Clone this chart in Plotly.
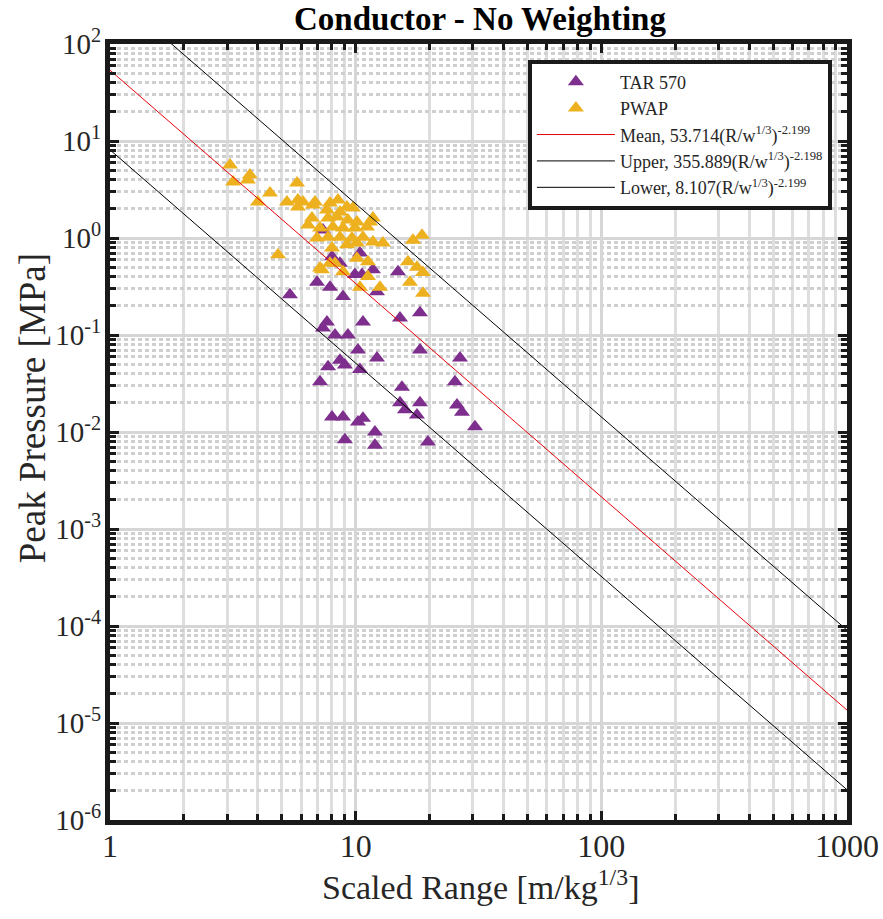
import plotly.graph_objects as go

# ---- Data ----
tar_range = [7.36, 8.01, 8.63, 10.41, 11.76, 14.87, 9.93, 10.61, 6.96, 7.86,
             12.21, 5.40, 8.88, 7.64, 10.71, 15.15, 18.27, 7.36, 8.24, 9.30,
             10.22, 18.27, 26.58, 8.63, 12.21, 7.72, 9.04, 10.41, 7.16, 15.43,
             25.36, 15.15, 18.27, 15.87, 17.76, 25.84, 27.08, 30.59, 8.01, 8.88,
             10.22, 10.71, 11.98, 9.04, 11.98, 19.69]
tar_peak = [1.21, 0.64, 0.55, 0.70, 0.47, 0.45, 0.42, 0.42, 0.35, 0.31,
            0.28, 0.26, 0.25, 0.136, 0.136, 0.15, 0.17, 0.118, 0.100, 0.100,
            0.070, 0.070, 0.058, 0.055, 0.058, 0.047, 0.049, 0.044, 0.033, 0.029,
            0.033, 0.020, 0.020, 0.017, 0.015, 0.019, 0.016, 0.0113, 0.0143, 0.0143,
            0.0127, 0.0139, 0.0100, 0.0083, 0.0073, 0.0079]

pwap_range = [3.08, 3.71, 3.17, 3.64, 5.77, 4.48, 4.00, 5.25, 5.82, 6.10,
              6.83, 5.82, 6.70, 7.86, 8.47, 9.22, 9.75, 7.64, 8.63, 6.64,
              6.40, 7.72, 8.39, 9.30, 10.12, 11.44, 11.76, 7.16, 8.08, 8.88,
              9.93, 11.12, 6.96, 7.72, 8.63, 9.66, 10.71, 11.76, 12.91, 9.22,
              10.12, 17.11, 18.62, 4.83, 8.01, 7.16, 8.24, 10.12, 11.22, 16.33,
              17.76, 18.79, 16.63, 12.56, 11.22, 10.41, 18.79, 7.86, 8.88, 7.29]
pwap_peak = [5.66, 4.46, 3.78, 3.96, 3.69, 2.91, 2.35, 2.35, 2.46, 2.35,
             2.35, 2.09, 2.19, 2.29, 2.46, 2.09, 2.04, 1.94, 1.85, 1.61,
             1.36, 1.61, 1.65, 1.53, 1.46, 1.46, 1.61, 1.27, 1.30, 1.27,
             1.27, 1.30, 1.00, 1.02, 1.02, 1.00, 1.02, 0.91, 0.89, 0.85,
             0.89, 0.95, 1.07, 0.67, 0.79, 0.49, 0.55, 0.62, 0.57, 0.57,
             0.50, 0.44, 0.35, 0.31, 0.40, 0.31, 0.27, 0.55, 0.45, 0.47]

# Fit lines: P = coef * R ** expo
fit_names = ["Mean", "Upper", "Lower"]
fit_coef = [53.714, 355.889, 8.107]
fit_expo = [-2.199, -2.198, -2.199]
fit_colors = ["#e8000b", "#000000", "#000000"]
line_range = [1, 1000]

x_tickvals = [1, 10, 100, 1000]
x_ticktext = ["1", "10", "100", "1000"]
y_tickvals = [1e-6, 1e-5, 1e-4, 1e-3, 1e-2, 1e-1, 1, 10, 100]
y_ticktext = ["10<sup>-6</sup>", "10<sup>-5</sup>", "10<sup>-4</sup>", "10<sup>-3</sup>",
              "10<sup>-2</sup>", "10<sup>-1</sup>", "10<sup>0</sup>", "10<sup>1</sup>",
              "10<sup>2</sup>"]

title_text = "<b>Conductor - No Weighting</b>"
xlabel = "Scaled Range [m/kg<sup>1/3</sup>]"
ylabel = "Peak Pressure [MPa]"

SERIF = "Liberation Serif"
TXT = "#262626"

fig = go.Figure()
fig.add_trace(go.Scatter(x=tar_range, y=tar_peak, mode="markers", name="TAR 570",
                         marker=dict(symbol="triangle-up", size=14, color="#7E2F8E",
                                     line=dict(width=0))))
fig.add_trace(go.Scatter(x=pwap_range, y=pwap_peak, mode="markers", name="PWAP",
                         marker=dict(symbol="triangle-up", size=14, color="#EDB120",
                                     line=dict(width=0))))
for nm, c, e, col in zip(fit_names, fit_coef, fit_expo, fit_colors):
    fig.add_trace(go.Scatter(
        x=line_range, y=[c * r ** e for r in line_range], mode="lines",
        name=f"{nm}, {c:.3f}(R/w<sup>1/3</sup>)<sup>{e:.3f}</sup>",
        line=dict(color=col, width=1)))

minor_x = [m * 10 ** d for d in range(0, 3) for m in range(2, 10)]
minor_y = [m * 10.0 ** d for d in range(-6, 2) for m in range(2, 10)]

fig.update_layout(
    width=883, height=919,
    margin=dict(l=110, r=36, t=44, b=99),
    paper_bgcolor="white", plot_bgcolor="white",
    font=dict(family=SERIF, color=TXT),
    title=dict(text=title_text, x=0.5436, xanchor="center",
               y=0.9795, yanchor="middle", pad=dict(t=0, b=0),
               font=dict(size=33, color="black", family=SERIF)),
    showlegend=True,
    legend=dict(x=0.9795, xanchor="right", y=0.98, yanchor="top",
                bgcolor="white", bordercolor="#1a1a1a", borderwidth=4,
                font=dict(size=18, family=SERIF, color=TXT),
                itemwidth=78, tracegroupgap=0),
    annotations=[
        dict(text=ylabel, xref="paper", yref="paper", x=-0.104, y=0.531,
             xanchor="center", yanchor="middle", textangle=-90, showarrow=False,
             font=dict(size=37, family=SERIF, color=TXT)),
        dict(text=xlabel, xref="paper", yref="paper", x=0.503, y=-0.084,
             xanchor="center", yanchor="middle", showarrow=False,
             font=dict(size=34, family=SERIF, color=TXT)),
    ],
)
fig.update_xaxes(
    type="log", range=[0, 3],
    tickmode="array", tickvals=x_tickvals, ticktext=x_ticktext,
    tickfont=dict(size=32, family=SERIF, color=TXT),
    ticks="inside", ticklen=9, tickwidth=3, tickcolor="#1a1a1a", ticklabelstandoff=-6,
    showline=True, linecolor="#1a1a1a", linewidth=5, mirror="allticks",
    showgrid=True, gridcolor="#d6d6d6", gridwidth=3,
    minor=dict(tickmode="array", tickvals=minor_x, ticks="inside", ticklen=6,
               tickwidth=3, tickcolor="#1a1a1a", showgrid=True,
               gridcolor="#dedede", gridwidth=3),
    zeroline=False, automargin=False,
)
fig.update_yaxes(
    type="log", range=[-6, 2],
    tickmode="array", tickvals=y_tickvals, ticktext=y_ticktext,
    tickfont=dict(size=29, family=SERIF, color=TXT),
    ticks="inside", ticklen=9, tickwidth=3, tickcolor="#1a1a1a", ticklabelstandoff=-2,
    showline=True, linecolor="#1a1a1a", linewidth=5, mirror="allticks",
    showgrid=True, gridcolor="#d6d6d6", gridwidth=3,
    minor=dict(tickmode="array", tickvals=minor_y, ticks="inside", ticklen=6,
               tickwidth=3, tickcolor="#1a1a1a", showgrid=True,
               gridcolor="#cfcfcf", gridwidth=3, griddash="4px,3px"),
    zeroline=False, automargin=False,
)

fig.write_html("out.html", config={"displayModeBar": False},
               post_script="document.body.style.margin='0';")
